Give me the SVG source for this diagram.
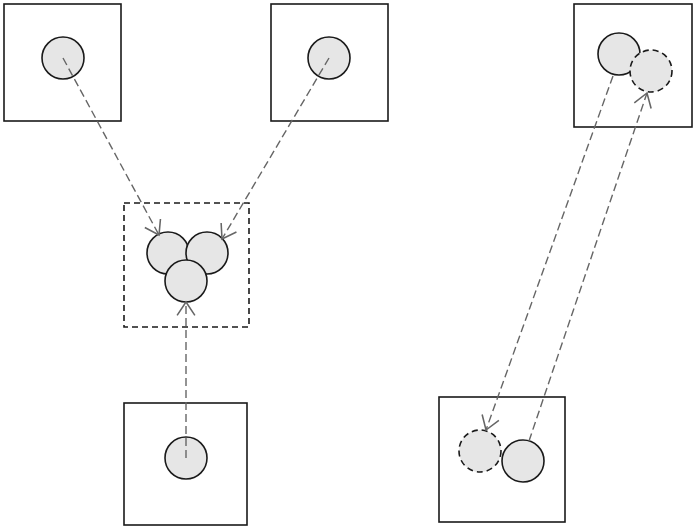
<svg xmlns="http://www.w3.org/2000/svg" width="700" height="529" viewBox="0 0 700 529">
<defs>
<style>
.box{fill:#fff;stroke:#1a1a1a;stroke-width:1.6}
.dbox{fill:#fff;stroke:#1a1a1a;stroke-width:1.6;stroke-dasharray:6,4}
.c{fill:#e6e6e6;stroke:#1a1a1a;stroke-width:1.6}
.dc{fill:#e6e6e6;stroke:#1a1a1a;stroke-width:1.6;stroke-dasharray:6,4}
.ln{fill:none;stroke:#666;stroke-width:1.4;stroke-dasharray:8,4}
</style>
<marker id="arr" markerUnits="userSpaceOnUse" markerWidth="18" markerHeight="20" refX="12" refY="9" orient="auto" viewBox="0 0 14 18">
<path d="M0,1 L12,9 L0,17" fill="none" stroke="#666" stroke-width="1.4"/>
</marker>
</defs>
<rect width="700" height="529" fill="#fff"/>
<g id="node-topleft">
<rect class="box" x="4" y="4" width="117" height="117"/>
<circle class="c" cx="63" cy="58" r="21"/>
</g>
<g id="node-topmid">
<rect class="box" x="271" y="4" width="117" height="117"/>
<circle class="c" cx="329" cy="58" r="21"/>
</g>
<g id="node-merge">
<rect class="dbox" x="124" y="203" width="125" height="124"/>
<circle class="c" cx="168" cy="253" r="21"/>
<circle class="c" cx="207" cy="253" r="21"/>
<circle class="c" cx="186" cy="281" r="21"/>
</g>
<g id="node-bottomleft">
<rect class="box" x="124" y="403" width="123" height="122"/>
<circle class="c" cx="186" cy="458" r="21"/>
</g>
<g id="node-topright">
<rect class="box" x="574" y="4" width="118" height="123"/>
<circle class="c" cx="619" cy="54" r="21"/>
<circle class="dc" cx="651" cy="71" r="21"/>
</g>
<g id="node-bottomright">
<rect class="box" x="439" y="397" width="126" height="125"/>
<circle class="dc" cx="480" cy="451" r="21"/>
<circle class="c" cx="523" cy="461" r="21"/>
</g>
<g id="connectors">
<line class="ln" x1="63" y1="58" x2="159" y2="235" marker-end="url(#arr)"/>
<line class="ln" x1="329" y1="58" x2="222" y2="239" marker-end="url(#arr)"/>
<line class="ln" x1="186" y1="458" x2="186" y2="302" marker-end="url(#arr)"/>
<line class="ln" x1="613" y1="76" x2="486" y2="430" marker-end="url(#arr)"/>
<line class="ln" x1="529" y1="441" x2="647" y2="93" marker-end="url(#arr)"/>
</g>
</svg>
